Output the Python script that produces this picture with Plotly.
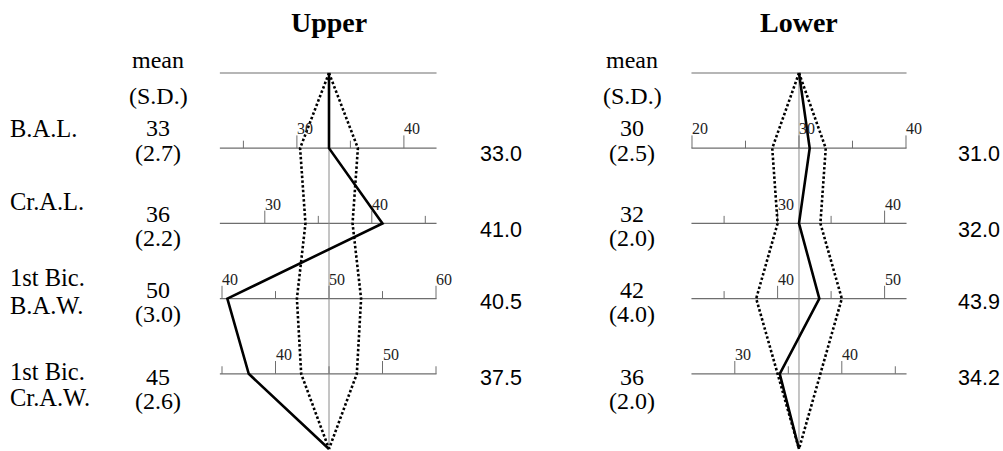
import math
import plotly.graph_objects as go

# data
measures = ["B.A.L.", "Cr.A.L.", "1st Bic.<br>B.A.W.", "1st Bic.<br>Cr.A.W."]
upper_mean = [33, 36, 50, 45]
upper_sd = [2.7, 2.2, 3.0, 2.6]
upper_value = [33.0, 41.0, 40.5, 37.5]
lower_mean = [30, 32, 42, 36]
lower_sd = [2.5, 2.0, 4.0, 2.0]
lower_value = [31.0, 32.0, 43.9, 34.2]

W, H = 1003, 451
SERIF = "Liberation Serif, Times New Roman, serif"
SANS = "Liberation Sans, Arial, sans-serif"

ROW0_PX, ROW_STEP = 73, 75.2       # pixel of top line, row spacing
PX_PER_UNIT = 10.7


def py(p):  # pixel y -> paper
    return 1 - p / H


def px(p):
    return p / W


fig = go.Figure()


def panel(xa, means, sds, values, x_lo, x_hi):
    n = len(means)
    rows = list(range(n + 2))
    # horizontal scale lines
    lx, ly = [], []
    for r in range(n + 1):
        lx += [x_lo, x_hi, None]
        ly += [r, r, None]
    fig.add_trace(go.Scatter(x=lx, y=ly, mode="lines", xaxis=xa, yaxis="y",
                             line=dict(color="#6e6e6e", width=1.2), hoverinfo="skip"))
    # centre line
    fig.add_trace(go.Scatter(x=[0, 0], y=[0, n + 1], mode="lines", xaxis=xa, yaxis="y",
                             line=dict(color="#8a8a8a", width=1), hoverinfo="skip"))
    # ticks on each row
    tx, ty = [], []
    for i, m in enumerate(means):
        r = i + 1
        t = math.ceil((m + x_lo) / 5) * 5
        while t <= m + x_hi + 1e-9:
            h = 0.17 if t % 10 == 0 else 0.1
            tx += [t - m, t - m, None]
            ty += [r, r - h, None]
            if t % 10 == 0:
                fig.add_annotation(x=t - m, y=r - h, xref=xa, yref="y", text=str(t),
                                   showarrow=False, xanchor="left", yanchor="bottom",
                                   xshift=-2, yshift=-4,
                                   font=dict(family=SERIF, size=16, color="#222"))
            t += 5
    fig.add_trace(go.Scatter(x=tx, y=ty, mode="lines", xaxis=xa, yaxis="y",
                             line=dict(color="#6e6e6e", width=1), hoverinfo="skip"))
    # +/- 1 SD envelope
    for sgn in (-1, 1):
        fig.add_trace(go.Scatter(x=[0] + [sgn * s for s in sds] + [0], y=rows, mode="lines",
                                 xaxis=xa, yaxis="y", hoverinfo="skip",
                                 line=dict(color="black", width=2.6, dash="2.5px,2.2px")))
    # individual profile
    fig.add_trace(go.Scatter(x=[0] + [v - m for v, m in zip(values, means)] + [0], y=rows,
                             mode="lines", xaxis=xa, yaxis="y", hoverinfo="skip",
                             line=dict(color="black", width=2.6)))


panel("x", upper_mean, upper_sd, upper_value, -10.2, 10.05)
panel("x2", lower_mean, lower_sd, lower_value, -10.05, 10.05)

XR = 11
c_up, c_lo = 329, 799
y_top = -ROW0_PX / ROW_STEP
y_bot = (H - ROW0_PX) / ROW_STEP

fig.update_layout(
    width=W, height=H, margin=dict(l=0, r=0, t=0, b=0),
    plot_bgcolor="white", paper_bgcolor="white", showlegend=False,
    xaxis=dict(domain=[px(c_up - XR * PX_PER_UNIT), px(c_up + XR * PX_PER_UNIT)],
               range=[-XR, XR], visible=False, anchor="y"),
    xaxis2=dict(domain=[px(c_lo - XR * PX_PER_UNIT), px(c_lo + XR * PX_PER_UNIT)],
                range=[-XR, XR], visible=False, anchor="y"),
    yaxis=dict(domain=[0, 1], range=[y_bot, y_top], visible=False),
)


def txt(x, y, s, size, family=SERIF, bold=False, anchor="center"):
    fig.add_annotation(x=px(x), y=py(y), xref="paper", yref="paper",
                       text=f"<b>{s}</b>" if bold else s, showarrow=False,
                       xanchor=anchor, yanchor="middle",
                       font=dict(family=family, size=size, color="black"))


# titles
txt(c_up, 22, "Upper", 28, bold=True)
txt(c_lo, 22, "Lower", 28, bold=True)

# row labels on the left
label_y = [[128], [201], [277, 305], [371, 397]]
for name, ys in zip(measures, label_y):
    for part, yy in zip(name.split("<br>"), ys):
        txt(8, yy, part, 24.5, anchor="left")

# mean (S.D.) columns
mean_y = [(128, 153), (214, 238), (290, 314), (377, 401)]
for cx, means, sds in ((158, upper_mean, upper_sd), (632, lower_mean, lower_sd)):
    txt(cx, 60, "mean", 24)
    txt(cx, 96, "(S.D.)", 24)
    for (y1, y2), m, s in zip(mean_y, means, sds):
        txt(cx, y1, str(m), 24)
        txt(cx, y2, f"({s:.1f})", 24)

# individual values
val_y = [154, 230, 302, 378]
for cx, vals in ((501, upper_value), (979, lower_value)):
    for yy, v in zip(val_y, vals):
        txt(cx, yy, f"{v:.1f}", 21.5, family=SANS)

fig.write_html("out.html", config={"displayModeBar": False},
               post_script="document.body.style.margin='0';")
